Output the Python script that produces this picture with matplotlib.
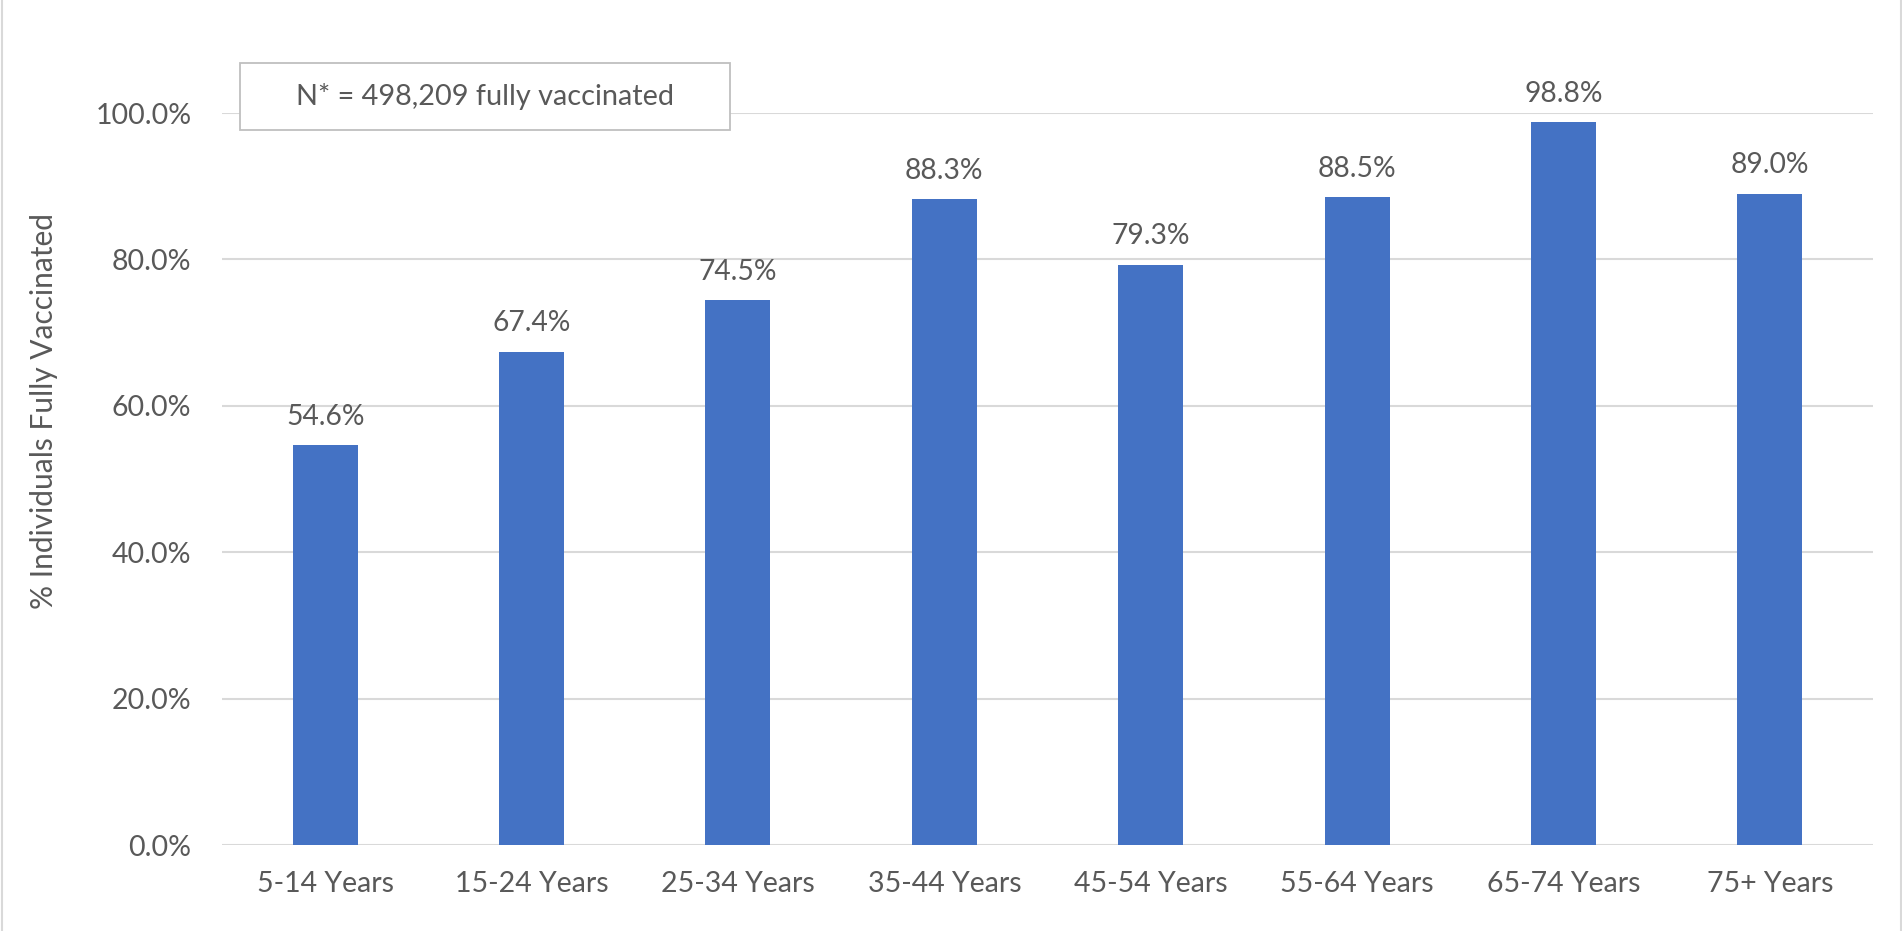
import numpy as np
import matplotlib.pyplot as plt
from matplotlib.patches import Rectangle
from matplotlib.lines import Line2D
from matplotlib.ticker import FuncFormatter

age_groups = ["5-14 Years", "15-24 Years", "25-34 Years", "35-44 Years",
              "45-54 Years", "55-64 Years", "65-74 Years", "75+ Years"]
pct_vaccinated = [54.6, 67.4, 74.5, 88.3, 79.3, 88.5, 98.8, 89.0]
y_ticks = [0, 20, 40, 60, 80, 100]
note = "N* = 498,209 fully vaccinated"
y_label = "% Individuals Fully Vaccinated"

plt.rcParams['font.family'] = ['Lato', 'DejaVu Sans']
text_color = "#595959"
grid_color = "#d9d9d9"
bar_color = "#4472C4"

W, H = 1902, 931
fig = plt.figure(figsize=(W / 100, H / 100), dpi=100)
ax = fig.add_axes([222 / W, 1 - 845 / H, (1873 - 222) / W, (845 - 113) / H])

x = np.arange(len(age_groups))
bars = ax.bar(x, pct_vaccinated, width=0.315, color=bar_color, zorder=3)

ax.set_xlim(-0.5, len(age_groups) - 0.5)
ax.set_ylim(0, 100)
ax.set_yticks(y_ticks)
ax.yaxis.set_major_formatter(FuncFormatter(lambda v, p: "{:.1f}%".format(v)))
ax.set_xticks(x)
ax.set_xticklabels(age_groups)
ax.grid(axis='y', color=grid_color, linewidth=1.5, zorder=0)
ax.set_axisbelow(True)
for s in ax.spines.values():
    s.set_visible(False)
ax.tick_params(axis='both', length=0, labelsize=20.5, labelcolor=text_color)
ax.tick_params(axis='y', pad=22)
ax.tick_params(axis='x', pad=19)

for rect, v in zip(bars, pct_vaccinated):
    ax.annotate("{:.1f}%".format(v), (rect.get_x() + rect.get_width() / 2, v),
                xytext=(0, 14.5), textcoords='offset points', ha='center',
                va='baseline', fontsize=20.3, color=text_color, annotation_clip=False)

fig.text(44 / W, 1 - 411 / H, y_label, rotation=90, ha='center', va='center',
         fontsize=21.5, color=text_color)

# note box
fig.patches.append(Rectangle((240 / W, 1 - 130 / H), 490 / W, 67 / H,
                             transform=fig.transFigure, facecolor='white',
                             edgecolor='#bfbfbf', linewidth=1.3, zorder=5))
fig.text(485 / W, 1 - 97 / H, note, ha='center', va='center', fontsize=20.8,
         color=text_color, zorder=6)

# chart border
fig.lines.append(Line2D([2 / W, 2 / W], [0, 1], transform=fig.transFigure,
                        color=grid_color, linewidth=1.5))
fig.lines.append(Line2D([1900.5 / W, 1900.5 / W], [0, 1], transform=fig.transFigure,
                        color=grid_color, linewidth=1.5))

fig.savefig("out.png", dpi=100)
